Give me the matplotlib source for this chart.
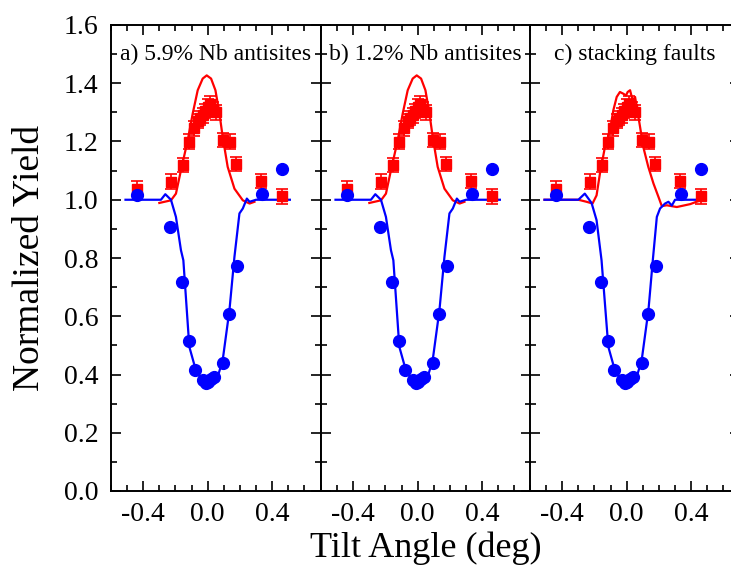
import matplotlib.pyplot as plt
from matplotlib.ticker import MultipleLocator

plt.rcParams['font.family'] = ['Liberation Serif', 'DejaVu Serif']

# measured yields (same experimental data in every panel)
red_x = [-0.44, -0.23, -0.155, -0.118, -0.083, -0.062, -0.045, -0.03, -0.015,
         0.0, 0.015, 0.03, 0.05, 0.097, 0.14, 0.177, 0.332, 0.463]
red_y = [1.038, 1.062, 1.12, 1.20, 1.245, 1.27, 1.28, 1.29, 1.305,
         1.32, 1.33, 1.31, 1.30, 1.205, 1.20, 1.122, 1.064, 1.012]
red_err = [0.025] * len(red_x)

blue_x = [-0.44, -0.234, -0.159, -0.118, -0.077, -0.03, -0.012, 0.005, 0.02,
          0.04, 0.093, 0.135, 0.180, 0.339, 0.463]
blue_y = [1.015, 0.907, 0.716, 0.516, 0.417, 0.38, 0.372, 0.375, 0.385,
          0.39, 0.438, 0.607, 0.773, 1.021, 1.105]

# simulated curves, antisite models (a, b)
sim_red_x = [-0.30, -0.228, -0.197, -0.166, -0.124, -0.093, -0.062, -0.031,
             -0.006, 0.021, 0.048, 0.073, 0.093, 0.124, 0.166, 0.218, 0.26, 0.29]
sim_red_y = [0.989, 0.998, 1.021, 1.101, 1.204, 1.296, 1.376, 1.416,
             1.427, 1.416, 1.376, 1.296, 1.216, 1.113, 1.038, 0.998, 0.987, 0.993]
sim_blue_x = [-0.51, -0.29, -0.263, -0.228, -0.197, -0.166, -0.151, -0.114,
              -0.068, -0.01, 0.062, 0.093, 0.135, 0.166, 0.197, 0.218, 0.243,
              0.26, 0.30, 0.51]
sim_blue_y = [1.0, 1.0, 1.019, 1.0, 0.941, 0.827, 0.792, 0.495,
              0.404, 0.375, 0.392, 0.449, 0.621, 0.804, 0.953, 0.970, 1.004,
              0.993, 1.0, 1.0]

# simulated curves, stacking fault model (c)
sf_red_x = [-0.51, -0.30, -0.249, -0.212, -0.187, -0.166, -0.135, -0.104,
            -0.083, -0.062, -0.042, -0.021, -0.004, 0.006, 0.021, 0.037, 0.052,
            0.066, 0.083, 0.103, 0.134, 0.166, 0.197, 0.218, 0.249, 0.311,
            0.394, 0.467]
sf_red_y = [1.0, 1.0, 0.993, 0.987, 1.015, 1.09, 1.181, 1.238,
            1.307, 1.353, 1.37, 1.364, 1.358, 1.37, 1.376, 1.341, 1.353,
            1.307, 1.25, 1.181, 1.113, 1.056, 1.01, 0.978, 0.981, 0.975,
            0.985, 1.0]
sf_blue_x = [-0.51, -0.30, -0.26, -0.218, -0.187, -0.156, -0.114, -0.068,
             -0.01, 0.062, 0.093, 0.135, 0.162, 0.187, 0.207, 0.238, 0.259,
             0.28, 0.30, 0.49]
sf_blue_y = [1.0, 1.0, 1.021, 0.989, 0.93, 0.792, 0.495, 0.404,
             0.375, 0.392, 0.449, 0.621, 0.792, 0.941, 0.970, 0.987, 0.993,
             0.98, 1.0, 1.0]

labels = ['a) 5.9% Nb antisites', 'b) 1.2% Nb antisites', 'c) stacking faults']
sims = [(sim_red_x, sim_red_y, sim_blue_x, sim_blue_y),
        (sim_red_x, sim_red_y, sim_blue_x, sim_blue_y),
        (sf_red_x, sf_red_y, sf_blue_x, sf_blue_y)]

W, H = 731, 567
fig = plt.figure(figsize=(W / 100, H / 100), dpi=100)
lefts = [111, 321, 530]
for i, left in enumerate(lefts):
    ax = fig.add_axes([left / W, (H - 491) / H, 209.5 / W, 466 / H])
    rx, ry, bx, by = sims[i]
    ax.plot(rx, ry, color='#ff0000', lw=1.6, zorder=2)
    ax.plot(bx, by, color='#0000ff', lw=1.6, zorder=3)
    ax.errorbar(red_x, red_y, yerr=red_err, fmt='s', color='#ff0000',
                ms=7.5, capsize=4.5, elinewidth=1.2, capthick=1.2, zorder=4)
    ax.plot(blue_x, blue_y, 'o', color='#0000ff', ms=8.5, zorder=5)
    ax.set_xlim(-0.6, 0.7)
    ax.set_ylim(0, 1.6)
    ax.xaxis.set_major_locator(MultipleLocator(0.4))
    ax.xaxis.set_minor_locator(MultipleLocator(0.1))
    ax.yaxis.set_major_locator(MultipleLocator(0.2))
    ax.yaxis.set_minor_locator(MultipleLocator(0.1))
    ax.tick_params(which='both', direction='in', top=True, right=True,
                   labelsize=20, width=1.2)
    ax.tick_params(which='major', length=7)
    ax.tick_params(which='minor', length=4)
    ax.set_xticks([-0.4, 0.0, 0.4])
    ax.set_xticklabels(['-0.4', '0.0', '0.4'])
    ax.tick_params(axis='x', pad=8)
    ax.tick_params(axis='y', pad=9)
    if i == 0:
        ax.yaxis.set_major_formatter(plt.FormatStrFormatter('%.1f'))
    else:
        ax.tick_params(labelleft=False)
    for s in ax.spines.values():
        s.set_linewidth(1.4)
    ax.text(0.5, 1.5, labels[i], transform=ax.get_yaxis_transform(),
            ha='center', va='center', fontsize=17)

fig.text(30 / W, 1 - 258 / H, 'Normalized Yield', rotation=90,
         ha='center', va='center', fontsize=27)
fig.text(426 / W, 1 - 548 / H, 'Tilt Angle (deg)', ha='center', va='center',
         fontsize=26)

fig.savefig('out.png', dpi=100)
